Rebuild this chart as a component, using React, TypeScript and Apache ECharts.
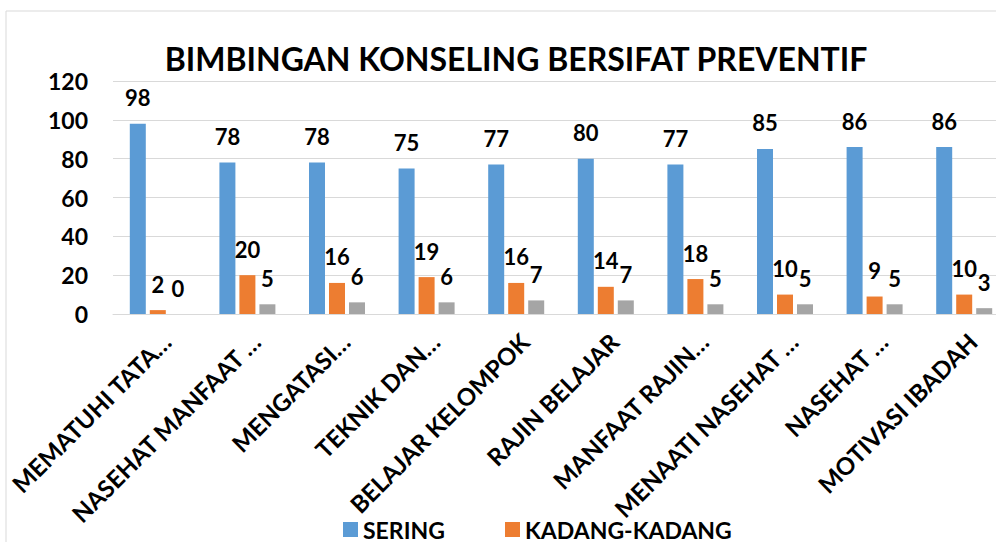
import React, { useEffect, useRef } from "react";
import * as echarts from "echarts";

const categories = [
  "MEMATUHI TATA…",
  "NASEHAT MANFAAT …",
  "MENGATASI…",
  "TEKNIK DAN…",
  "BELAJAR KELOMPOK",
  "RAJIN BELAJAR",
  "MANFAAT RAJIN…",
  "MENAATI NASEHAT …",
  "NASEHAT …",
  "MOTIVASI IBADAH",
];
const sering = [98, 78, 78, 75, 77, 80, 77, 85, 86, 86];
const kadang = [2, 20, 16, 19, 16, 14, 18, 10, 9, 10];
const tidak = [0, 5, 6, 6, 7, 7, 5, 5, 5, 3];
const seriesNames = ["SERING", "KADANG-KADANG", "TIDAK PERNAH"];
const colors = ["#5B9BD5", "#ED7D31", "#A5A5A5"];
const yTicks = { min: 0, max: 120, interval: 20 };

const FONT = "Lato, 'Open Sans', sans-serif";

export default function App() {
  const ref = useRef<HTMLDivElement>(null);
  useEffect(() => {
    if (!ref.current) return;
    const chart = echarts.init(ref.current, undefined, { renderer: "svg" });
    const label = {
      show: true,
      position: "top" as const,
      distance: 15,
      fontFamily: FONT,
      fontWeight: "bold" as const,
      fontSize: 22,
      color: "#000",
    };
    const mk = (name: string, data: number[], color: string) => ({
      name,
      type: "bar" as const,
      data,
      barWidth: 16,
      barGap: "25%",
      itemStyle: { color },
      label,
    });
    const legendText = { fontFamily: FONT, fontWeight: "bold" as const, fontSize: 23, color: "#000" };
    chart.setOption({
      animation: false,
      textStyle: { fontFamily: FONT },
      title: {
        text: "BIMBINGAN KONSELING BERSIFAT PREVENTIF",
        left: 511,
        textAlign: "center",
        top: 37,
        textStyle: { fontFamily: FONT, fontWeight: "bold", fontSize: 32, color: "#000" },
      },
      graphic: [
        {
          type: "rect",
          shape: { x: 6, y: 11, width: 1100, height: 700 },
          style: { fill: "none", stroke: "#d9d9d9", lineWidth: 1 },
          silent: true,
        },
      ],
      legend: [
        {
          data: [seriesNames[0]],
          left: 343,
          top: 518,
          padding: 0,
          itemWidth: 15,
          itemHeight: 15,
          icon: "rect",
          textStyle: legendText,
        },
        {
          data: [seriesNames[1]],
          left: 505,
          top: 518,
          padding: 0,
          itemWidth: 15,
          itemHeight: 15,
          icon: "rect",
          textStyle: legendText,
        },
      ],
      grid: { left: 113, width: 896, top: 81, height: 233, containLabel: false },
      xAxis: {
        type: "category",
        data: categories,
        axisTick: { show: false },
        axisLine: { lineStyle: { color: "#d9d9d9" } },
        axisLabel: {
          interval: 0,
          rotate: 45,
          margin: 15,
          verticalAlign: "top",
          fontFamily: FONT,
          fontWeight: "bold",
          fontSize: 24,
          color: "#000",
        },
      },
      yAxis: {
        type: "value",
        min: yTicks.min,
        max: yTicks.max,
        interval: yTicks.interval,
        axisLine: { show: false },
        axisTick: { show: false },
        splitLine: { lineStyle: { color: "#d9d9d9" } },
        axisLabel: {
          margin: 25,
          fontFamily: FONT,
          fontWeight: "bold",
          fontSize: 23,
          color: "#000",
        },
      },
      series: [
        mk(seriesNames[0], sering, colors[0]),
        mk(seriesNames[1], kadang, colors[1]),
        mk(seriesNames[2], tidak, colors[2]),
      ],
    });
    return () => chart.dispose();
  }, []);
  return (
    <div
      style={{
        position: "fixed",
        left: 0,
        top: 0,
        width: 996,
        height: 542,
        overflow: "hidden",
        background: "#fff",
      }}
    >
      <div ref={ref} style={{ width: 1020, height: 542 }} />
    </div>
  );
}
